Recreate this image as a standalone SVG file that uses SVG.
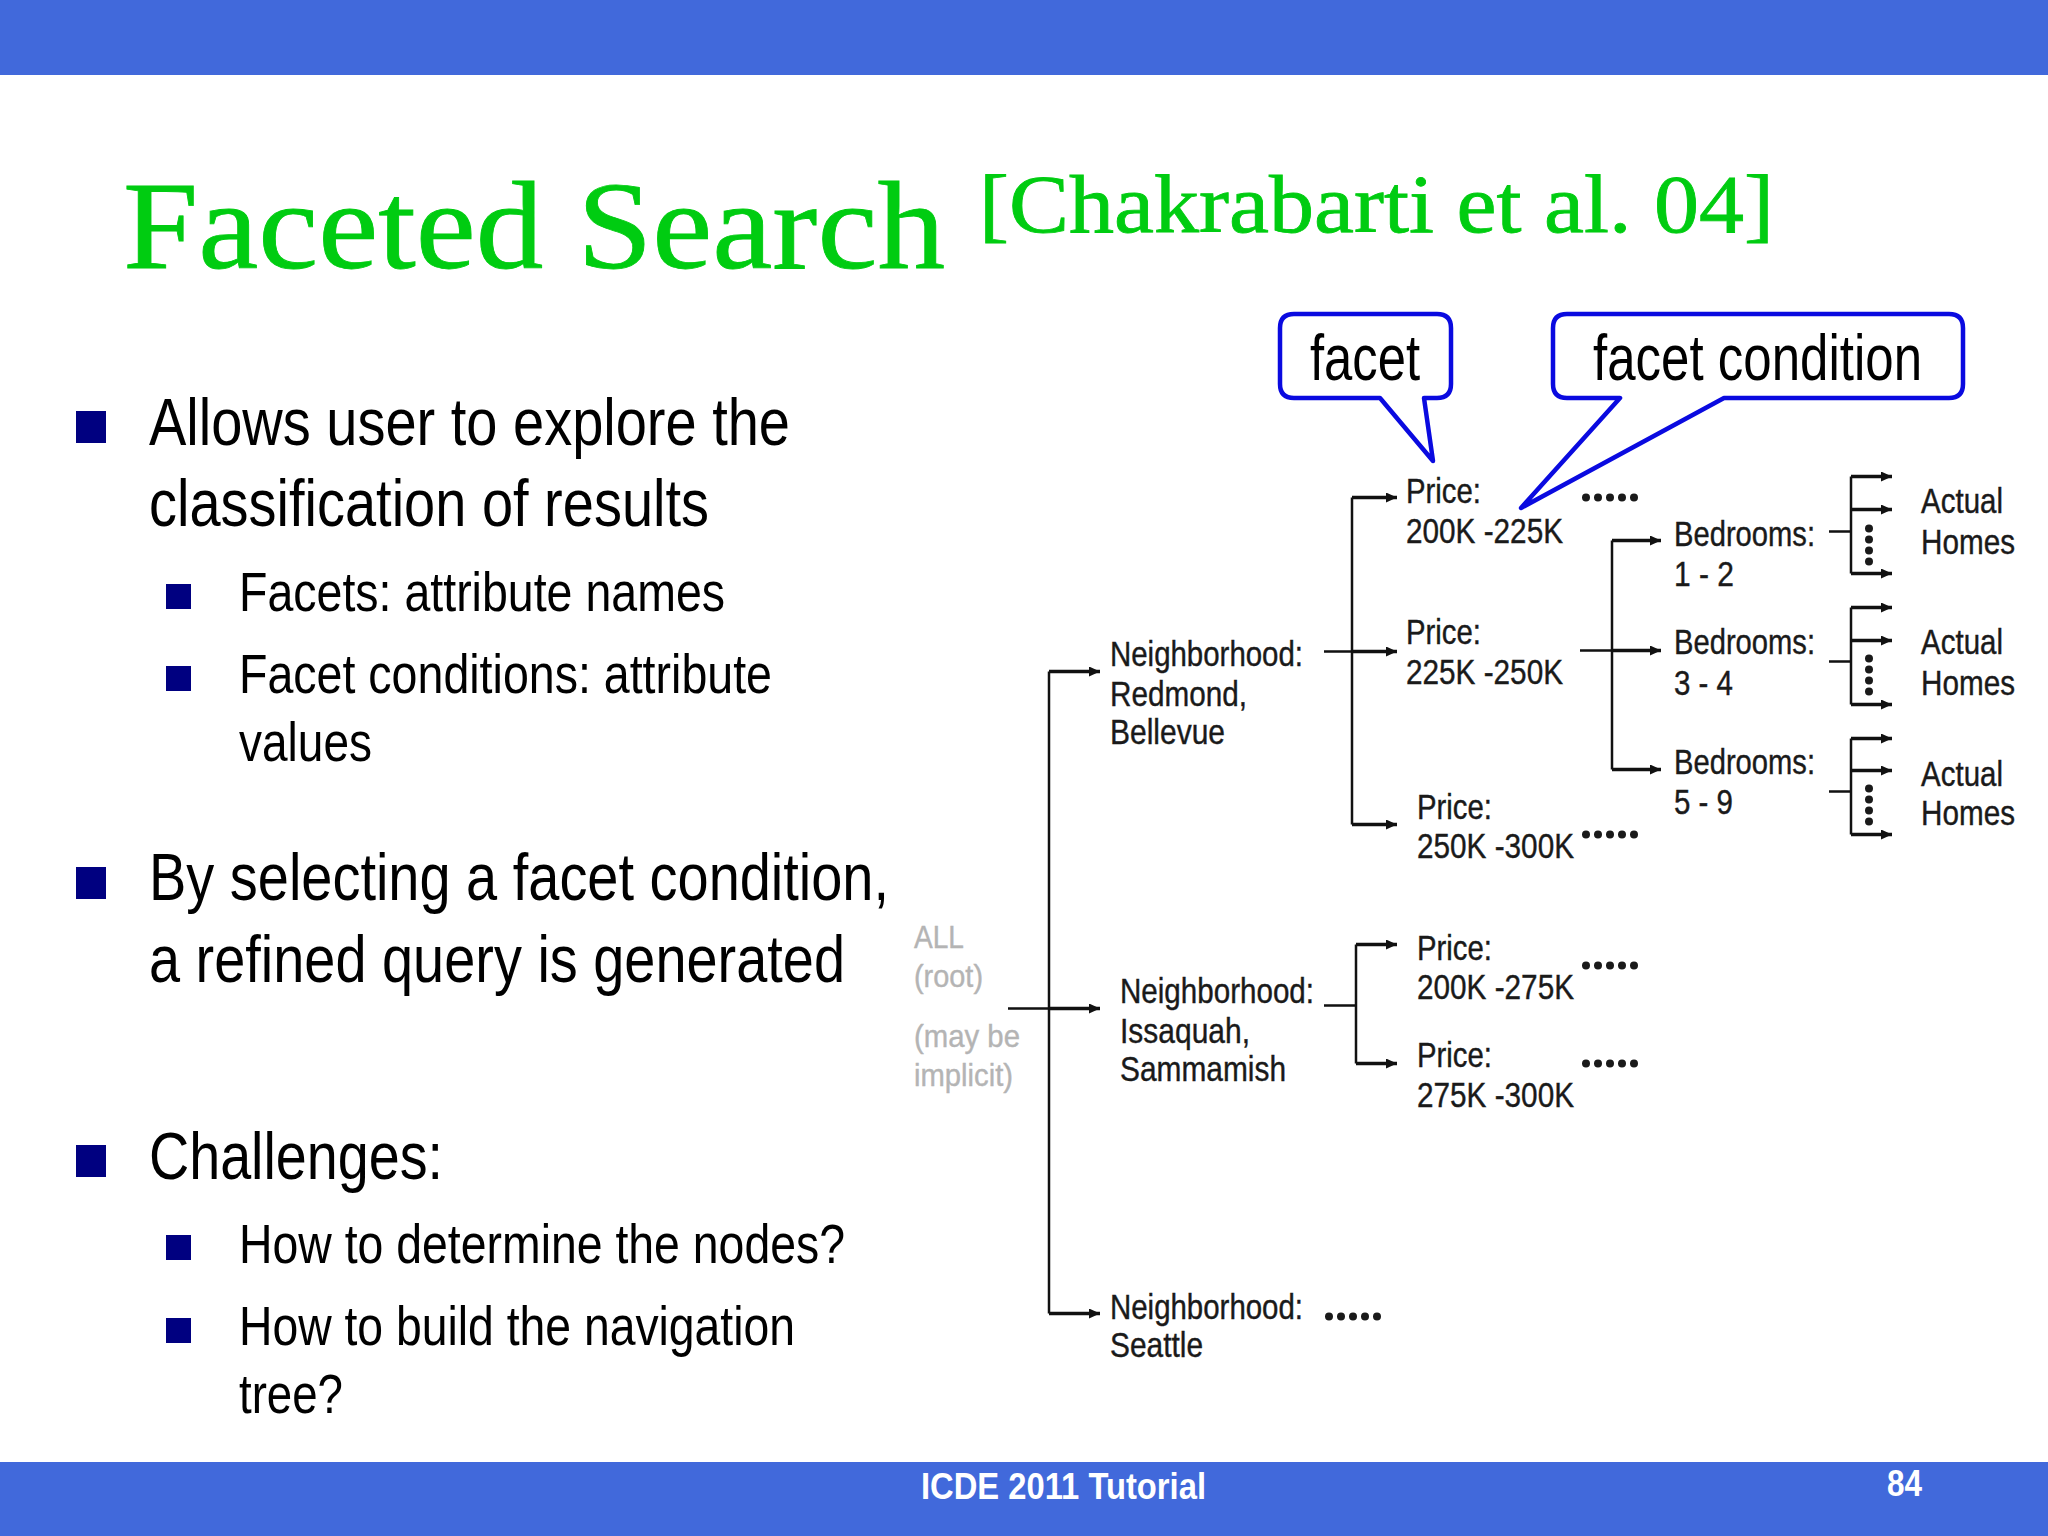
<svg xmlns="http://www.w3.org/2000/svg" width="2048" height="1536" viewBox="0 0 2048 1536">
<style>
text{font-family:"Liberation Sans",Arial,sans-serif;fill:#000}
.t{font-family:"Liberation Serif","Times New Roman",serif;fill:#00cc11;stroke:#00cc11;stroke-width:.8}
.b1{font-size:66px}
.b2{font-size:56px}
.n{font-size:35px;fill:#1a1a1a;stroke:#1a1a1a;stroke-width:.4}
.g{font-size:32px;fill:#b4b4b4;stroke:#b4b4b4;stroke-width:.4}
.c{font-size:64px}
.f{font-weight:bold;fill:#fff;font-size:36px}
.bar{fill:#4169db}
.bu{fill:#000080}
.w{fill:none;stroke:#111;stroke-width:2.5}
.a{fill:none;stroke:#111;stroke-width:3.5;marker-end:url(#ah)}
.co{fill:#fff;stroke:#0a0ae0;stroke-width:4.5;stroke-linejoin:round}
.dots{fill:none;stroke:#1a1a1a;stroke-width:8;stroke-linecap:round;stroke-dasharray:0 12}
.vd{stroke-dasharray:0 11}
</style>
<defs><marker id="ah" markerUnits="userSpaceOnUse" markerWidth="12" markerHeight="12" refX="11" refY="5" orient="auto"><path d="M0 0L11 5L0 10Z" fill="#111"/></marker></defs>
<rect width="2048" height="1536" fill="#fff"/>
<rect class="bar" width="2048" height="75"/>
<rect class="bar" y="1462" width="2048" height="74"/>
<g id="title">
<text class="t" x="123" y="268" font-size="124" textLength="822" lengthAdjust="spacingAndGlyphs">Faceted Search</text>
<text class="t" x="979" y="232" font-size="82" textLength="795" lengthAdjust="spacingAndGlyphs">[Chakrabarti et al. 04]</text>
</g>
<g id="bullets">
<g class="bu"><rect x="76" y="411" width="30" height="32"/><rect x="76" y="867" width="30" height="32"/><rect x="76" y="1145" width="30" height="32"/>
<rect x="166" y="584" width="25" height="25"/><rect x="166" y="666" width="25" height="25"/><rect x="166" y="1235" width="25" height="25"/><rect x="166" y="1318" width="25" height="25"/></g>
<text class="b1" x="149" y="445" textLength="641" lengthAdjust="spacingAndGlyphs">Allows user to explore the</text>
<text class="b1" x="149" y="526" textLength="560" lengthAdjust="spacingAndGlyphs">classification of results</text>
<text class="b2" x="239" y="611" textLength="486" lengthAdjust="spacingAndGlyphs">Facets: attribute names</text>
<text class="b2" x="239" y="693" textLength="533" lengthAdjust="spacingAndGlyphs">Facet conditions: attribute</text>
<text class="b2" x="239" y="761" textLength="133" lengthAdjust="spacingAndGlyphs">values</text>
<text class="b1" x="149" y="900" textLength="740" lengthAdjust="spacingAndGlyphs">By selecting a facet condition,</text>
<text class="b1" x="149" y="982" textLength="696" lengthAdjust="spacingAndGlyphs">a refined query is generated</text>
<text class="b1" x="149" y="1179" textLength="294" lengthAdjust="spacingAndGlyphs">Challenges:</text>
<text class="b2" x="239" y="1263" textLength="606" lengthAdjust="spacingAndGlyphs">How to determine the nodes?</text>
<text class="b2" x="239" y="1345" textLength="556" lengthAdjust="spacingAndGlyphs">How to build the navigation</text>
<text class="b2" x="239" y="1413" textLength="104" lengthAdjust="spacingAndGlyphs">tree?</text>
</g>
<g id="connectors" transform="translate(0 1.5)">
<path class="w" d="M1008 1007H1049M1049 670V1312"/>
<path class="a" d="M1049 670H1100"/><path class="a" d="M1049 1007H1100"/><path class="a" d="M1049 1312H1100"/>
<path class="w" d="M1324 650H1352M1352 496V823"/>
<path class="a" d="M1352 496H1397"/><path class="a" d="M1352 650H1397"/><path class="a" d="M1352 823H1397"/>
<path class="w" d="M1324 1004H1356M1356 943V1062"/>
<path class="a" d="M1356 943H1397"/><path class="a" d="M1356 1062H1397"/>
<path class="w" d="M1580 649H1612M1612 539V768"/>
<path class="a" d="M1612 539H1661"/><path class="a" d="M1612 649H1661"/><path class="a" d="M1612 768H1661"/>
<path class="w" d="M1829 530H1851M1851 475V572"/>
<path class="a" d="M1851 475H1892"/><path class="a" d="M1851 508H1892"/><path class="a" d="M1851 572H1892"/>
<path class="w" d="M1829 660H1851M1851 606V703"/>
<path class="a" d="M1851 606H1892"/><path class="a" d="M1851 639H1892"/><path class="a" d="M1851 703H1892"/>
<path class="w" d="M1829 790H1851M1851 737V833"/>
<path class="a" d="M1851 737H1892"/><path class="a" d="M1851 769H1892"/><path class="a" d="M1851 833H1892"/>
<path class="dots vd" d="M1869 527V561M1869 657V691M1869 787V821"/>
<path class="dots" d="M1586 496H1635M1586 833H1635M1586 964H1635M1586 1062H1635M1329 1315H1378"/>
</g>
<g id="root"><text class="g" x="914" y="948" textLength="50" lengthAdjust="spacingAndGlyphs">ALL</text><text class="g" x="914" y="987" textLength="69" lengthAdjust="spacingAndGlyphs">(root)</text><text class="g" x="914" y="1047" textLength="106" lengthAdjust="spacingAndGlyphs">(may be</text><text class="g" x="914" y="1086" textLength="99" lengthAdjust="spacingAndGlyphs">implicit)</text></g>
<g id="n-redmond"><text class="n" x="1110" y="666" textLength="193" lengthAdjust="spacingAndGlyphs">Neighborhood:</text><text class="n" x="1110" y="706" textLength="137" lengthAdjust="spacingAndGlyphs">Redmond,</text><text class="n" x="1110" y="744" textLength="115" lengthAdjust="spacingAndGlyphs">Bellevue</text></g>
<g id="n-issaquah"><text class="n" x="1120" y="1003" textLength="194" lengthAdjust="spacingAndGlyphs">Neighborhood:</text><text class="n" x="1120" y="1043" textLength="130" lengthAdjust="spacingAndGlyphs">Issaquah,</text><text class="n" x="1120" y="1081" textLength="166" lengthAdjust="spacingAndGlyphs">Sammamish</text></g>
<g id="n-seattle"><text class="n" x="1110" y="1319" textLength="193" lengthAdjust="spacingAndGlyphs">Neighborhood:</text><text class="n" x="1110" y="1357" textLength="93" lengthAdjust="spacingAndGlyphs">Seattle</text></g>
<g id="p1"><text class="n" x="1406" y="503" textLength="75" lengthAdjust="spacingAndGlyphs">Price:</text><text class="n" x="1406" y="543" textLength="157" lengthAdjust="spacingAndGlyphs">200K -225K</text></g>
<g id="p2"><text class="n" x="1406" y="644" textLength="75" lengthAdjust="spacingAndGlyphs">Price:</text><text class="n" x="1406" y="684" textLength="157" lengthAdjust="spacingAndGlyphs">225K -250K</text></g>
<g id="p3"><text class="n" x="1417" y="819" textLength="75" lengthAdjust="spacingAndGlyphs">Price:</text><text class="n" x="1417" y="858" textLength="157" lengthAdjust="spacingAndGlyphs">250K -300K</text></g>
<g id="p4"><text class="n" x="1417" y="960" textLength="75" lengthAdjust="spacingAndGlyphs">Price:</text><text class="n" x="1417" y="999" textLength="157" lengthAdjust="spacingAndGlyphs">200K -275K</text></g>
<g id="p5"><text class="n" x="1417" y="1067" textLength="75" lengthAdjust="spacingAndGlyphs">Price:</text><text class="n" x="1417" y="1107" textLength="157" lengthAdjust="spacingAndGlyphs">275K -300K</text></g>
<g id="b1"><text class="n" x="1674" y="546" textLength="141" lengthAdjust="spacingAndGlyphs">Bedrooms:</text><text class="n" x="1674" y="586" textLength="60" lengthAdjust="spacingAndGlyphs">1 - 2</text></g>
<g id="b2"><text class="n" x="1674" y="654" textLength="141" lengthAdjust="spacingAndGlyphs">Bedrooms:</text><text class="n" x="1674" y="695" textLength="59" lengthAdjust="spacingAndGlyphs">3 - 4</text></g>
<g id="b3"><text class="n" x="1674" y="774" textLength="141" lengthAdjust="spacingAndGlyphs">Bedrooms:</text><text class="n" x="1674" y="814" textLength="59" lengthAdjust="spacingAndGlyphs">5 - 9</text></g>
<g id="h1"><text class="n" x="1921" y="513" textLength="82" lengthAdjust="spacingAndGlyphs">Actual</text><text class="n" x="1921" y="554" textLength="94" lengthAdjust="spacingAndGlyphs">Homes</text></g>
<g id="h2"><text class="n" x="1921" y="654" textLength="82" lengthAdjust="spacingAndGlyphs">Actual</text><text class="n" x="1921" y="695" textLength="94" lengthAdjust="spacingAndGlyphs">Homes</text></g>
<g id="h3"><text class="n" x="1921" y="786" textLength="82" lengthAdjust="spacingAndGlyphs">Actual</text><text class="n" x="1921" y="825" textLength="94" lengthAdjust="spacingAndGlyphs">Homes</text></g>
<g id="callout-facet"><path class="co" d="M1294 314H1437Q1451 314 1451 328V384Q1451 398 1437 398H1424L1433 461L1380 398H1294Q1280 398 1280 384V328Q1280 314 1294 314Z"/><text class="c" x="1310" y="380" textLength="110" lengthAdjust="spacingAndGlyphs">facet</text></g>
<g id="callout-condition"><path class="co" d="M1567 314H1949Q1963 314 1963 328V384Q1963 398 1949 398H1724L1521 508L1620 398H1567Q1553 398 1553 384V328Q1553 314 1567 314Z"/><text class="c" x="1593" y="380" textLength="329" lengthAdjust="spacingAndGlyphs">facet condition</text></g>
<g id="footer"><text class="f" x="921" y="1499" textLength="285" lengthAdjust="spacingAndGlyphs">ICDE 2011 Tutorial</text><text class="f" x="1887" y="1496" textLength="35" lengthAdjust="spacingAndGlyphs">84</text></g>
</svg>
